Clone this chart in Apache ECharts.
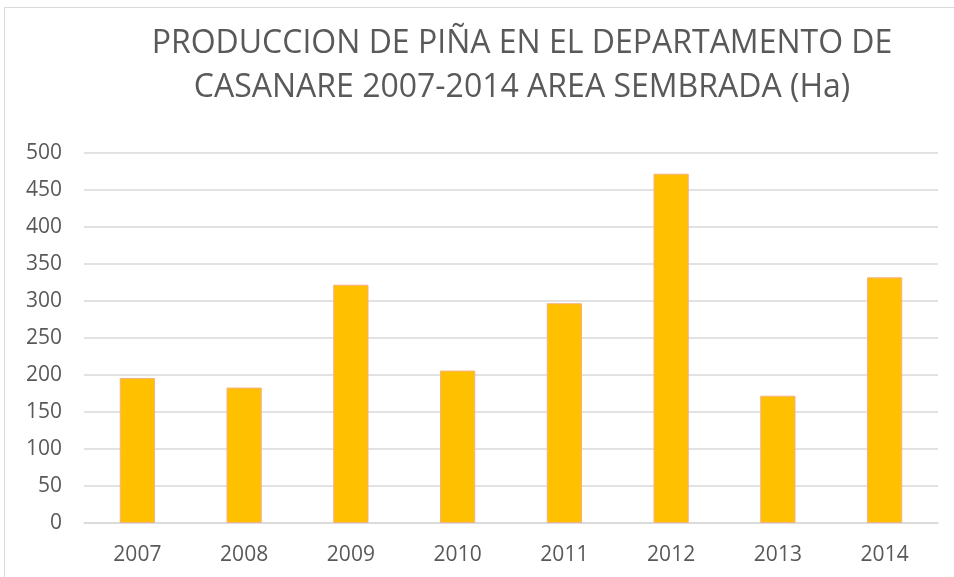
<!DOCTYPE html>
<html>
<head>
<meta charset="utf-8">
<script src="https://cdn.jsdelivr.net/npm/echarts@6/dist/echarts.min.js"></script>
<style>
  html, body { margin: 0; padding: 0; background: #fff; }
  #chart { width: 954px; height: 577px; }
</style>
</head>
<body>
<div id="chart"></div>
<script>
// datos
const years = ['2007', '2008', '2009', '2010', '2011', '2012', '2013', '2014'];
const areaSembrada = [196, 183, 322, 206, 297, 472, 172, 332];
const yTicks = { min: 0, max: 500, step: 50 };

const titleText = 'PRODUCCION DE PIÑA EN EL DEPARTAMENTO DE\nCASANARE 2007-2014 AREA SEMBRADA (Ha)';
const font = '"Open Sans", sans-serif';

const myChart = echarts.init(document.getElementById('chart'));

const option = {
    animation: false,
    backgroundColor: '#fff',
    title: {
        text: titleText,
        left: 517,
        top: 17,
        textAlign: 'center',
        textStyle: {
            fontFamily: font,
            fontSize: 32,
            fontWeight: 'normal',
            color: '#595959',
            lineHeight: 44
        }
    },
    // borde del area del grafico
    graphic: [{
        type: 'rect',
        shape: { x: 4.5, y: 7.5, width: 1000, height: 1000 },
        style: { fill: 'none', stroke: '#d9d9d9', lineWidth: 1 },
        silent: true
    }],
    grid: {
        left: 84,
        right: 16,
        top: 153,
        bottom: 54,
        containLabel: false
    },
    xAxis: {
        type: 'category',
        data: years,
        axisTick: { show: false },
        axisLine: { show: true, lineStyle: { color: '#d9d9d9', width: 1.5 } },
        axisLabel: {
            margin: 22,
            fontFamily: font,
            fontSize: 21,
            color: '#595959'
        }
    },
    yAxis: {
        type: 'value',
        min: yTicks.min,
        max: yTicks.max,
        interval: yTicks.step,
        axisLine: { show: false },
        axisTick: { show: false },
        axisLabel: {
            margin: 22,
            fontFamily: font,
            fontSize: 21,
            color: '#595959'
        },
        splitLine: { lineStyle: { color: '#d9d9d9', width: 1.5 } }
    },
    series: [{
        name: 'Area sembrada (Ha)',
        type: 'bar',
        data: areaSembrada,
        barWidth: '33%',
        itemStyle: {
            color: '#FFC000',
            borderColor: '#F4B183',
            borderWidth: 1
        }
    }]
};

myChart.setOption(option);
</script>
</body>
</html>
